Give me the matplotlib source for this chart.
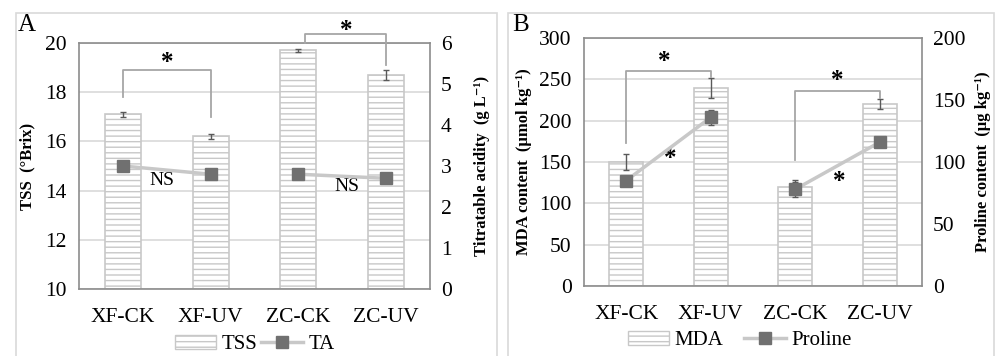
import matplotlib.pyplot as plt
from matplotlib.patches import Rectangle, Patch
from matplotlib.lines import Line2D

plt.rcParams['font.family'] = ['Liberation Serif', 'DejaVu Serif']
plt.rcParams['hatch.linewidth'] = 1.0

groups = ['XF-CK', 'XF-UV', 'ZC-CK', 'ZC-UV']

# panel A
tss = [17.1, 16.2, 19.7, 18.7]
tss_err = [0.1, 0.1, 0.05, 0.2]
ta = [3.0, 2.8, 2.8, 2.7]

# panel B
mda = [150, 240, 120, 220]
mda_err = [10, 12, 8, 6]
proline = [85, 136, 78, 116]
proline_err = [3, 6, 6, 2]

W, H = 996, 356
fig = plt.figure(figsize=(W / 100, H / 100), dpi=100)

bar_edge = '#c8c8c8'
grid_c = '#d9d9d9'
frame_c = '#8c8c8c'
line_c = '#c8c8c8'
mark_c = '#707070'
brk_c = '#a6a6a6'


def px_axes(x0, y0, x1, y1):
    return fig.add_axes([x0 / W, 1 - y1 / H, (x1 - x0) / W, (y1 - y0) / H])


def style(ax, ax2):
    for s in ax.spines.values():
        s.set_color(frame_c)
        s.set_linewidth(1.2)
    for s in ax2.spines.values():
        s.set_visible(False)
    ax.tick_params(axis='y', length=0, labelsize=15.5, pad=9)
    ax.tick_params(axis='x', length=0, labelsize=15.5, pad=14)
    ax2.tick_params(axis='y', length=0, labelsize=15.5, pad=8)
    ax.yaxis.grid(True, color=grid_c, linewidth=1.2)
    ax.set_axisbelow(True)
    ax.set_xlim(-0.5, 3.5)


def bracket(ax, x0, x1, y0, ytop, y1, star_x, star_y):
    ax.plot([x0, x0, x1, x1], [y0, ytop, ytop, y1], color=brk_c, lw=1.3,
            clip_on=False, zorder=5)
    ax.text(star_x, star_y, '*', ha='center', va='center', fontsize=18,
            fontweight='bold', clip_on=False)


def legend_handles():
    return [Patch(facecolor='white', edgecolor=bar_edge, hatch='---'),
            Line2D([], [], color=line_c, lw=2.5, marker='s', markersize=8,
                   markerfacecolor=mark_c, markeredgecolor=mark_c)]


# frames around the two panels
for x0, x1 in [(16, 497), (508, 994)]:
    fig.patches.append(Rectangle((x0 / W, -0.1), (x1 - x0) / W, 1.1 - 13 / H,
                                 transform=fig.transFigure, fill=False,
                                 edgecolor='#d9d9d9', linewidth=1.2))

x = range(len(groups))

# ---- panel A
axA = px_axes(79, 43, 430, 289)
axA2 = axA.twinx()
axA.bar(x, [v - 10 for v in tss], bottom=10, width=0.41, color='white',
        edgecolor=bar_edge, hatch='---', linewidth=1.2, zorder=2)
axA.errorbar(x, tss, yerr=tss_err, fmt='none', ecolor='#595959',
             elinewidth=1, capsize=2.5, zorder=3)
axA.set_ylim(10, 20)
axA.set_yticks(range(10, 21, 2))
axA.set_xticks(list(x))
axA.set_xticklabels(groups)
for sl in (slice(0, 2), slice(2, 4)):
    axA2.plot(x[sl], ta[sl], color=line_c, lw=2.5, marker='s', markersize=8,
              markerfacecolor=mark_c, markeredgecolor=mark_c, zorder=4)
axA2.set_ylim(0, 6)
axA2.set_yticks(range(0, 7))
style(axA, axA2)
axA.set_ylabel('TSS  (°Brix)', fontsize=12, fontweight='bold', labelpad=7)
axA2.set_ylabel('Titratable acidity  (g L⁻¹)', fontsize=12,
                fontweight='bold', labelpad=16)
bracket(axA, 0, 1, 17.8, 18.9, 17.0, 0.5, 19.2)
bracket(axA, 2.07, 3.0, 20.0, 20.35, 19.1, 2.55, 20.5)
axA.text(0.45, 14.4, 'NS', ha='center', va='center', fontsize=14)
axA.text(2.55, 14.15, 'NS', ha='center', va='center', fontsize=14)
fig.text(18 / W, 1 - 25 / H, 'A', fontsize=18, va='center', ha='left')
axA.legend(legend_handles(), ['TSS', 'TA'], loc='center',
           bbox_to_anchor=(0.5, -0.225), ncol=2, frameon=False, fontsize=15,
           handlelength=2.0, handletextpad=0.25, columnspacing=0.2,
           borderaxespad=0)

# ---- panel B
axB = px_axes(584, 38, 922, 286)
axB2 = axB.twinx()
axB.bar(x, mda, width=0.40, color='white', edgecolor=bar_edge, hatch='---',
        linewidth=1.2, zorder=2)
axB.errorbar(x, mda, yerr=mda_err, fmt='none', ecolor='#595959',
             elinewidth=1, capsize=2.5, zorder=3)
axB.set_ylim(0, 300)
axB.set_yticks(range(0, 301, 50))
axB.set_xticks(list(x))
axB.set_xticklabels(groups)
for sl in (slice(0, 2), slice(2, 4)):
    axB2.errorbar(x[sl], proline[sl], yerr=proline_err[sl], color=line_c,
                  lw=2.5, marker='s', markersize=8, markerfacecolor=mark_c,
                  markeredgecolor=mark_c, ecolor='#595959', elinewidth=1,
                  capsize=2.5, zorder=4)
axB2.set_ylim(0, 200)
axB2.set_yticks(range(0, 201, 50))
style(axB, axB2)
axB.set_ylabel('MDA content  (μmol kg⁻¹)', fontsize=12,
               fontweight='bold', labelpad=5)
axB2.set_ylabel('Proline content  (μg kg⁻¹)', fontsize=12,
                fontweight='bold', labelpad=7)
bracket(axB, 0, 1, 173, 260, 253, 0.45, 272)
bracket(axB, 2, 3, 153, 236, 227, 2.5, 248)
axB.text(0.52, 154, '*', ha='center', va='center', fontsize=18,
         fontweight='bold')
axB.text(2.52, 127, '*', ha='center', va='center', fontsize=18,
         fontweight='bold')
fig.text(512 / W, 1 - 25 / H, 'B', fontsize=18, va='center', ha='left')
axB.legend(legend_handles(), ['MDA', 'Proline'], loc='center',
           bbox_to_anchor=(0.46, -0.22), ncol=2, frameon=False, fontsize=15,
           handlelength=2.0, handletextpad=0.25, columnspacing=1.0,
           borderaxespad=0)

fig.savefig('out.png', dpi=100)
